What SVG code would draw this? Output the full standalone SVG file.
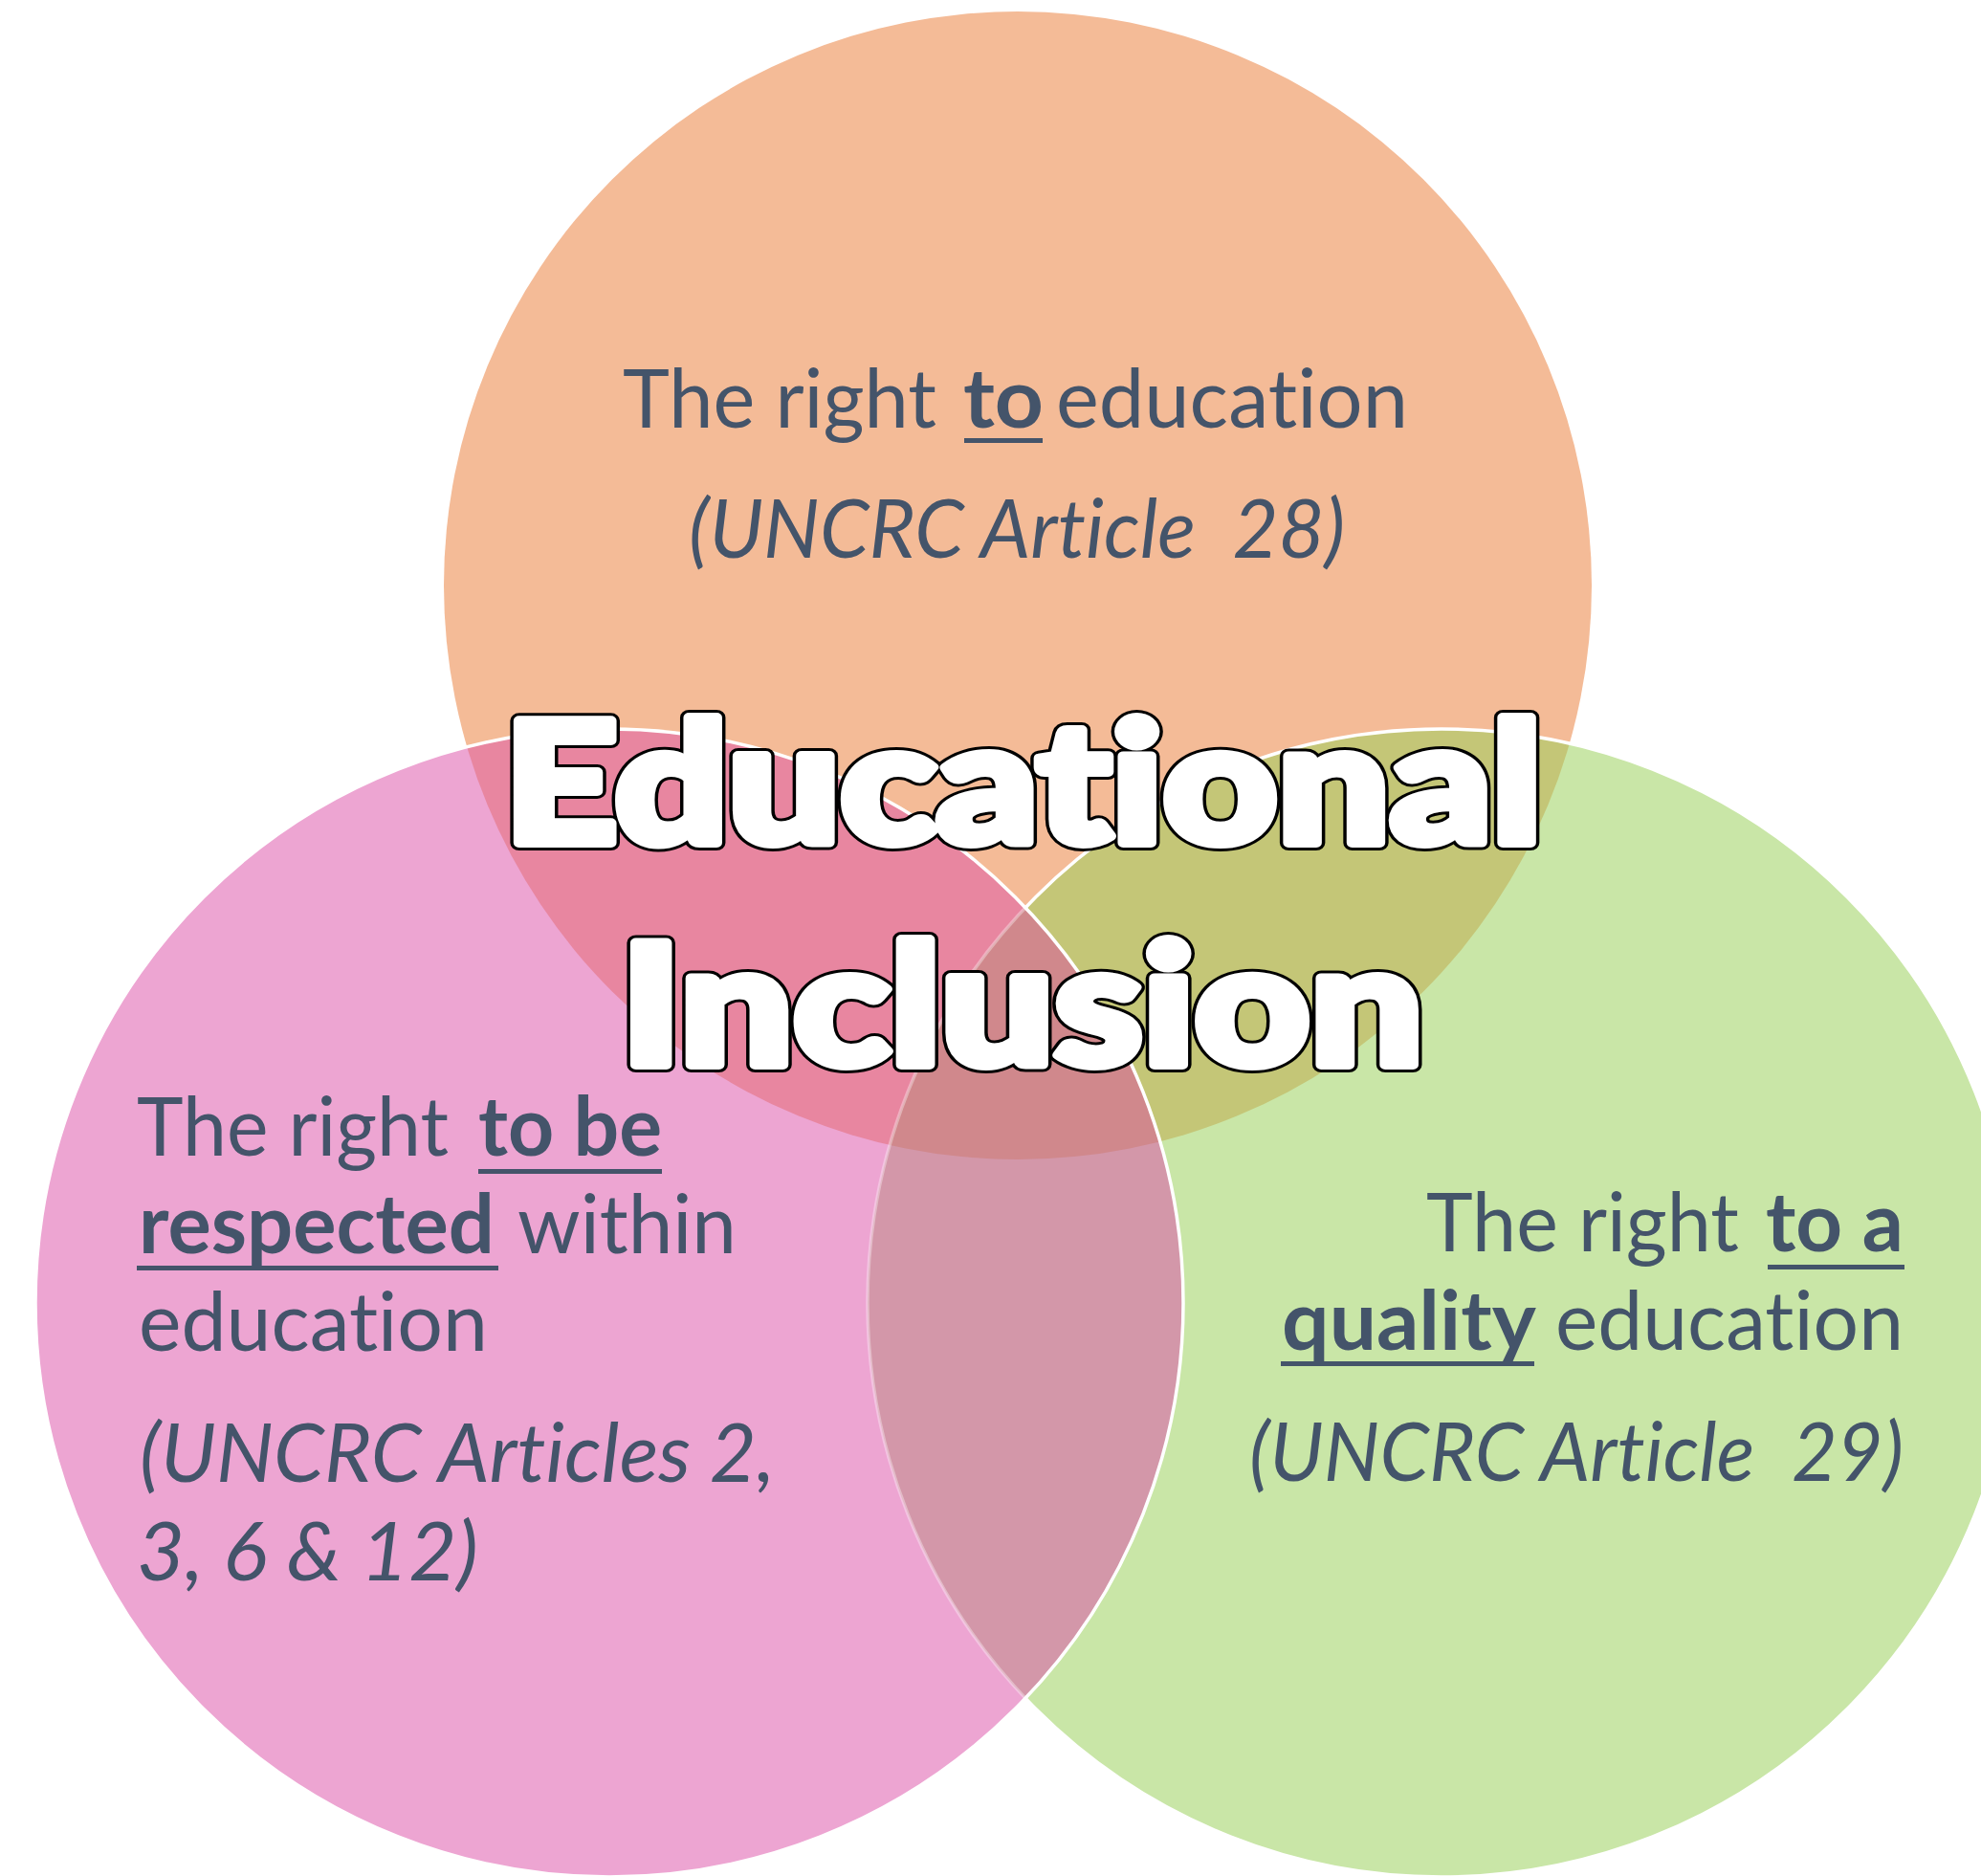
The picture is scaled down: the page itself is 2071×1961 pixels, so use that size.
<svg xmlns="http://www.w3.org/2000/svg" width="2071" height="1961" viewBox="0 0 2071 1961">
<style>
text{font-variant-ligatures:none;font-feature-settings:"liga" 0,"clig" 0}
.t{font-family:Lato,"Open Sans","Liberation Sans",sans-serif;font-size:86px;fill:#44546A}
.b{font-weight:700}
.i{font-style:italic}
.ul{fill:#44546A}
.ttl{font-family:Lato,"Noto Sans","Liberation Sans",sans-serif;font-weight:900;font-size:176px;stroke-linejoin:round}
.ttlo{fill:#000;stroke:#000;stroke-width:16}
.ttli{fill:#fff;stroke:#fff;stroke-width:10}
.edge{fill:none;stroke:#fff;stroke-width:3.5}
</style>
<defs>
<circle id="cO" cx="1064" cy="612" r="600"/>
<circle id="cP" cx="637" cy="1362" r="600"/>
<circle id="cG" cx="1507" cy="1362" r="600"/>
<clipPath id="clipO"><circle cx="1064" cy="612" r="600"/></clipPath>
<clipPath id="clipP"><circle cx="637" cy="1362" r="600"/></clipPath>
<clipPath id="clipG"><circle cx="1507" cy="1362" r="600"/></clipPath>
</defs>
<rect width="2071" height="1961" fill="#fff"/>
<g id="venn-shapes">
 <use href="#cO" fill="#F4BB97"/>
 <use href="#cG" fill="#C9E6A7"/>
 <g clip-path="url(#clipO)"><use href="#cG" fill="#C4C677"/></g>
 <use href="#cG" class="edge"/>
 <use href="#cP" fill="#EDA5D2"/>
 <g clip-path="url(#clipO)"><use href="#cP" fill="#E886A0"/></g>
 <g clip-path="url(#clipG)"><use href="#cP" fill="#D397A9"/><g clip-path="url(#clipO)"><use href="#cP" fill="#D0888C"/></g></g>
 <g clip-path="url(#clipP)"><use href="#cG" fill="none" stroke="#fff" stroke-opacity="0.35" stroke-width="3.5"/></g>
 <use href="#cP" class="edge"/>
</g>
<g id="connectors"/>
<g id="node-right-to">
 <text class="t" x="651" y="447" textLength="328" lengthAdjust="spacingAndGlyphs">The right</text>
 <text class="t b" x="1007" y="447" textLength="84" lengthAdjust="spacingAndGlyphs">to</text>
 <rect class="ul" x="1008" y="458" width="82" height="5"/>
 <text class="t" x="1104" y="447" textLength="368" lengthAdjust="spacingAndGlyphs">education</text>
 <text class="t i" x="720" y="583" textLength="686" lengthAdjust="spacingAndGlyphs">(UNCRC Article&#160; 28)</text>
</g>
<g id="node-right-within">
 <text class="t" x="143" y="1208" textLength="326" lengthAdjust="spacingAndGlyphs">The right</text>
 <text class="t b" x="500" y="1208" textLength="192" lengthAdjust="spacingAndGlyphs">to be</text>
 <rect class="ul" x="500" y="1222" width="192" height="5"/>
 <text class="t b" x="145" y="1310" textLength="372" lengthAdjust="spacingAndGlyphs">respected</text>
 <rect class="ul" x="143" y="1323" width="378" height="5"/>
 <text class="t" x="541" y="1310" textLength="229" lengthAdjust="spacingAndGlyphs">within</text>
 <text class="t" x="145" y="1412" textLength="365" lengthAdjust="spacingAndGlyphs">education</text>
 <text class="t i" x="146" y="1549" textLength="664" lengthAdjust="spacingAndGlyphs">(UNCRC Articles 2,</text>
 <text class="t i" x="143" y="1652" textLength="357" lengthAdjust="spacingAndGlyphs">3, 6 &amp; 12)</text>
</g>
<g id="node-right-quality">
 <text class="t" x="1491" y="1308" textLength="327" lengthAdjust="spacingAndGlyphs">The right</text>
 <text class="t b" x="1846" y="1308" textLength="144" lengthAdjust="spacingAndGlyphs">to a</text>
 <rect class="ul" x="1848" y="1322" width="143" height="5"/>
 <text class="t b" x="1340" y="1411" textLength="266" lengthAdjust="spacingAndGlyphs">quality</text>
 <rect class="ul" x="1339" y="1423" width="265" height="5"/>
 <text class="t" x="1626" y="1411" textLength="364" lengthAdjust="spacingAndGlyphs">education</text>
 <text class="t i" x="1306" y="1548" textLength="684" lengthAdjust="spacingAndGlyphs">(UNCRC Article&#160; 29)</text>
</g>
<g id="node-title">
 <text class="ttl ttlo" x="527" y="881" textLength="1085" lengthAdjust="spacingAndGlyphs">Educational</text>
 <text class="ttl ttli" x="527" y="881" textLength="1085" lengthAdjust="spacingAndGlyphs">Educational</text>
 <text class="ttl ttlo" x="649" y="1113" textLength="839" lengthAdjust="spacingAndGlyphs">Inclusion</text>
 <text class="ttl ttli" x="649" y="1113" textLength="839" lengthAdjust="spacingAndGlyphs">Inclusion</text>
</g>
</svg>
